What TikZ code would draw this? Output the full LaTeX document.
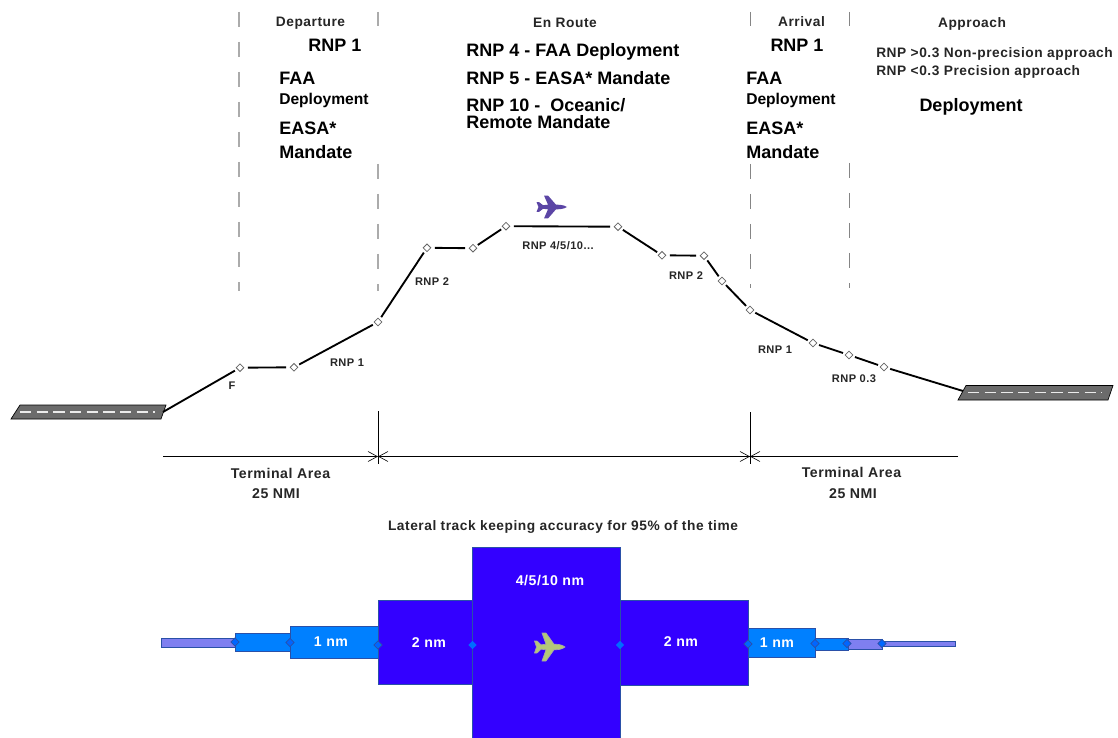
\documentclass[tikz,border=0pt]{standalone}
\usepackage{fontspec}
\setmainfont{Liberation Sans}
\newfontfamily\lblfont[LetterSpace=4,BoldFont={Liberation Sans Bold}]{Liberation Sans}
\usetikzlibrary{arrows.meta,shapes.geometric}
\definecolor{deepblue}{HTML}{3300FF}
\definecolor{midblue}{HTML}{0080FF}
\definecolor{paleblue}{HTML}{7F7FF0}
\definecolor{edgeblue}{HTML}{2A50A8}
\definecolor{dashlight}{HTML}{ABABAB}
\definecolor{dashdark}{HTML}{858585}
\definecolor{planepurple}{HTML}{5B45A5}
\definecolor{planegreen}{HTML}{B4C878}
\tikzset{
  wp/.style={diamond,draw=black!60,fill=white,line width=0.6pt,inner sep=0pt,minimum width=7.6pt,minimum height=7.6pt,outer sep=2.2pt},
  seg/.style={draw=black,line width=1.4pt},
  phase/.style={dash pattern=on 11.5pt off 11pt},
  phasea/.style={phase,draw=dashlight,line width=1.1pt},
  phaseb/.style={phase,draw=dashdark,line width=0.75pt},
  dim/.style={draw=black,line width=0.6pt},
  dimtip/.style={dim,-{Straight Barb[length=7pt,width=7.5pt,line width=0.45pt]}},
  big/.style={font=\bfseries\fontsize{13.5}{15}\selectfont,inner sep=0pt,anchor=west},
  bigc/.style={font=\bfseries\fontsize{13.5}{15}\selectfont,inner sep=0pt},
  med/.style={font=\bfseries\fontsize{11.7}{13}\selectfont,inner sep=0pt,anchor=west},
  lbl/.style={font=\lblfont\bfseries\fontsize{10.3}{12}\selectfont,text=black!85,inner sep=0pt},
  plbl/.style={font=\lblfont\bfseries\fontsize{8.3}{10}\selectfont,text=black!85,inner sep=0pt},
  lblbig/.style={font=\lblfont\bfseries\fontsize{10.6}{12}\selectfont,text=black!85,inner sep=0pt},
  wlbl/.style={font=\lblfont\bfseries\fontsize{10.6}{12}\selectfont,text=white,inner sep=0pt},
  runway/.style={fill=black!58,draw=black,line width=0.5pt},
  rwmark/.style={draw=white!92!black,line width=1pt,dash pattern=on 8.5pt off 4pt},
  zone/.style={draw=edgeblue,line width=0.75pt},
  mk/.style={diamond,draw=edgeblue,fill=midblue!80!blue,line width=0.6pt,inner sep=0pt,minimum width=6.5pt,minimum height=6.5pt},
  mks/.style={mk,draw=none,fill=midblue!85!blue,minimum width=6.5pt,minimum height=6.5pt},
  pics/plane/.style={code={
    \path[#1] (15,0) .. controls (12,-2.8) and (6,-2.8) .. (4,-2.8)
      -- (-4,-14) -- (-8,-14) -- (-4,-2.8) -- (-9,-2.2) -- (-13,-6) -- (-15.5,-6)
      -- (-13.5,0) -- (-15.5,6) -- (-13,6) -- (-9,2.2) -- (-4,2.8) -- (-8,14) -- (-4,14)
      -- (4,2.8) .. controls (6,2.8) and (12,2.8) .. (15,0) -- cycle;
  }}
}
\begin{document}
\begin{tikzpicture}[x=0.75pt,y=-0.75pt]
\useasboundingbox (0,0) rectangle (1118,738);
\fill[white] (0,0) rectangle (1118,738);

% phase boundaries
\coordinate (b1t) at (239,12); \coordinate (b1e) at (239,291);
\coordinate (b2t) at (378,12); \coordinate (b2m) at (378,26);
\coordinate (b2u) at (378,164); \coordinate (b2e) at (378,291);
\coordinate (b3t) at (750,12); \coordinate (b3m) at (750,26);
\coordinate (b3u) at (750,164); \coordinate (b3e) at (750,288);
\coordinate (b4t) at (849,12); \coordinate (b4m) at (849,26);
\coordinate (b4u) at (849,163); \coordinate (b4e) at (849,288);
\draw[phasea] (b1t) -- (b1e);
\draw[phasea] (b2t) -- (b2m);
\draw[phasea] (b2u) -- (b2e);
\draw[phaseb] (b3t) -- (b3m);
\draw[phaseb] (b3u) -- (b3e);
\draw[phaseb] (b4t) -- (b4m);
\draw[phaseb] (b4u) -- (b4e);

% runways
\path[runway] (20,405) -- (166,405) -- (161,419) -- (11,419) -- cycle;
\coordinate (rwla) at (20,412); \coordinate (rwlb) at (155,412);
\draw[rwmark] (rwla) -- (rwlb);
\path[runway] (966,385.5) -- (1113,385.5) -- (1108,400) -- (958,400) -- cycle;
\coordinate (rwra) at (968,392.5); \coordinate (rwrb) at (1102,392.5);
\draw[rwmark] (rwra) -- (rwrb);

% flight profile
\coordinate (rl) at (163,412);
\coordinate (rr) at (963,391);
\node[wp] (w1) at (240,367.7) {};
\node[wp] (w2) at (294,367.3) {};
\node[wp] (w3) at (378,322) {};
\node[wp] (w4) at (427,247.8) {};
\node[wp] (w5) at (473,248.2) {};
\node[wp] (w6) at (506,226.2) {};
\node[wp] (w7) at (618,226.7) {};
\node[wp] (w8) at (662,255.3) {};
\node[wp] (w9) at (704,255.7) {};
\node[wp] (w10) at (722,281) {};
\node[wp] (w11) at (750,310) {};
\node[wp] (w12) at (813,343) {};
\node[wp] (w13) at (849,355) {};
\node[wp] (w14) at (884,367) {};
\draw[seg] (rl) -- (w1);
\draw[seg] (w1) -- (w2);
\draw[seg] (w2) -- (w3);
\draw[seg] (w3) -- (w4);
\draw[seg] (w4) -- (w5);
\draw[seg] (w5) -- (w6);
\draw[seg] (w6) -- (w7);
\draw[seg] (w7) -- (w8);
\draw[seg] (w8) -- (w9);
\draw[seg] (w9) -- (w10);
\draw[seg] (w10) -- (w11);
\draw[seg] (w11) -- (w12);
\draw[seg] (w12) -- (w13);
\draw[seg] (w13) -- (w14);
\draw[seg] (w14) -- (rr);

\pic[yscale=0.82] at (552,207) {plane={fill=planepurple}};

% dimension lines
\coordinate (d0) at (163,456.5);
\coordinate (d1) at (378,456.5);
\coordinate (d2) at (750,456.5);
\coordinate (d3) at (958,456.5);
\coordinate (d1t) at (378,411); \coordinate (d1b) at (378,464);
\coordinate (d2t) at (750,412); \coordinate (d2b) at (750,464);
\draw[dim] (d1t) -- (d1b);
\draw[dim] (d2t) -- (d2b);
\draw[dimtip] (d0) -- (d1);
\draw[dimtip] (d2) -- (d1);
\draw[dimtip] (d1) -- (d2);
\draw[dimtip] (d3) -- (d2);

% track-keeping corridor
\path[fill=paleblue,zone] (161,638) rectangle (235,647);
\path[fill=midblue,zone] (235,633) rectangle (290,651);
\path[fill=midblue,zone] (290,626) rectangle (378,658);
\path[fill=deepblue,zone] (378,600.5) rectangle (472.5,684.5);
\path[fill=deepblue,zone] (620,600.5) rectangle (748.5,685);
\path[fill=midblue,zone] (748.5,628.5) rectangle (815,657);
\path[fill=midblue,zone] (815,638) rectangle (848,650);
\path[fill=paleblue,zone] (848,639.5) rectangle (882,649);
\path[fill=paleblue,zone] (882,641.5) rectangle (955,646.5);
\path[fill=deepblue,zone] (472.5,547) rectangle (620,740);
\node[mk] (m1) at (235,642) {};
\node[mk] (m2) at (290,642.5) {};
\node[mk] (m3) at (378,645) {};
\node[mks] (m4) at (472.5,645) {};
\node[mks] (m5) at (620,645) {};
\node[mk] (m6) at (748,644) {};
\node[mk] (m7) at (815,643.5) {};
\node[mk] (m8) at (847,643.5) {};
\node[mk] (m9) at (882,643.5) {};
\pic at (550,647) {plane={fill=planegreen,draw=black!35,line width=0.5pt}};

% header text
\node[lbl] (hdep) at (310.5,23.5) {Departure};
\node[lbl] (henr) at (565,23) {En Route};
\node[lbl] (harr) at (801.5,22) {Arrival};
\node[lbl] (happ) at (972,23.5) {Approach};

\node[bigc] (d1a) at (335,45) {RNP 1};
\node[big] (d1b2) at (279,78) {FAA};
\node[med] (d1c) at (279,100) {Deployment};
\node[big] (d1d) at (279,128) {EASA*};
\node[big] (d1e) at (279,152) {Mandate};

\node[big] (e1) at (466,51.5) {RNP 4 - FAA Deployment};
\node[big] (e2) at (466,78) {RNP 5 - EASA* Mandate};
\node[big] (e3) at (466,105) {RNP 10 -\ \ Oceanic/};
\node[big] (e4) at (466,122) {Remote Mandate};

\node[bigc] (a1a) at (797,45) {RNP 1};
\node[big] (a1b) at (746,78) {FAA};
\node[med] (a1c) at (746,100) {Deployment};
\node[big] (a1d) at (746,128) {EASA*};
\node[big] (a1e) at (746,152) {Mandate};

\node[lbl,anchor=west] (p1) at (876,54) {RNP >0.3 Non-precision approach};
\node[lbl,anchor=west] (p2) at (876,72) {RNP <0.3 Precision approach};
\node[bigc] (p3) at (971,106.5) {Deployment};

% profile labels
\node[plbl] (r1) at (232,386) {F};
\node[plbl] (r2) at (347,362.5) {RNP 1};
\node[plbl] (r3) at (432,282) {RNP 2};
\node[plbl] (r4) at (558,246) {RNP 4/5/10...};
\node[plbl] (r5) at (686,276) {RNP 2};
\node[plbl] (r6) at (775,349.5) {RNP 1};
\node[plbl] (r7) at (854,379) {RNP 0.3};

% terminal area
\node[lblbig] (t1) at (280.5,473) {Terminal Area};
\node[lblbig] (t2) at (276,493.5) {25 NMI};
\node[lblbig] (t3) at (851.5,472) {Terminal Area};
\node[lblbig] (t4) at (853,493.5) {25 NMI};
\node[lbl] (lat) at (563,527) {Lateral track keeping accuracy for 95\% of the time};

% corridor labels
\node[wlbl] (z1) at (331,642) {1 nm};
\node[wlbl] (z2) at (429,643) {2 nm};
\node[wlbl] (z3) at (550,581) {4/5/10 nm};
\node[wlbl] (z4) at (681,642) {2 nm};
\node[wlbl] (z5) at (777,643) {1 nm};
\end{tikzpicture}
\end{document}
